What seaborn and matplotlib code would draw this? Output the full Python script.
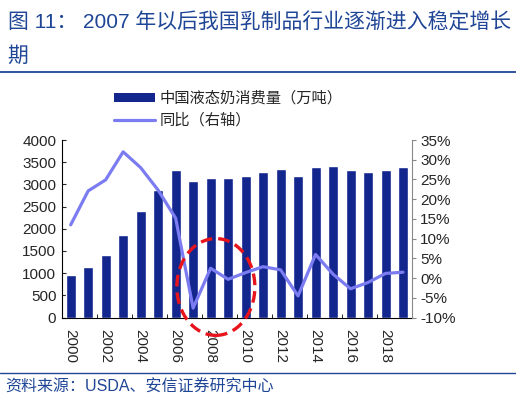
import numpy as np
import pandas as pd
import seaborn as sns
import matplotlib.pyplot as plt
from matplotlib.patches import Ellipse, Patch
from matplotlib.lines import Line2D
from matplotlib.ticker import FuncFormatter

# 中国液态奶消费量（万吨）与同比
years = list(range(2000, 2020))
consumption = [950, 1150, 1420, 1860, 2400, 2870, 3320, 3075, 3140, 3140,
               3190, 3280, 3345, 3190, 3390, 3410, 3315, 3280, 3315, 3390]
yoy = [0.135, 0.221, 0.249, 0.320, 0.280, 0.223, 0.152, -0.076, 0.025, -0.003,
       0.014, 0.029, 0.021, -0.045, 0.060, 0.010, -0.027, -0.011, 0.012, 0.015]

bar_label = '中国液态奶消费量（万吨）'
line_label = '同比（右轴）'
title1 = '图 11： 2007 年以后我国乳制品行业逐渐进入稳定增长'
title2 = '期'
source = '资料来源：USDA、安信证券研究中心'

df = pd.DataFrame({'year': years, 'consumption': consumption, 'yoy': yoy})

sns.set_style('white')
plt.rcParams['font.family'] = ['Liberation Sans', 'Noto Sans CJK SC']

bar_color = '#12268e'
line_color = '#7b7bf2'
title_color = '#1f4596'

fig = plt.figure(figsize=(5.16, 4.0), dpi=100)
ax = fig.add_axes([0.120, 0.206, 0.678, 0.444])

sns.barplot(data=df, x='year', y='consumption', native_scale=True,
            color=bar_color, saturation=1, width=0.57, ax=ax)
ax.set_xlim(1999.5, 2019.5)
ax.set_ylim(0, 4000)
ax.set_yticks(range(0, 4001, 500))
ax.set_xticks(years[::2])
ax.set_xticklabels([str(y) for y in years[::2]], rotation=-90)
ax.set_xticks(np.arange(2001.5, 2019, 2), minor=True)
ax.tick_params(axis='x', which='major', length=0, pad=8, labelsize=11)
ax.tick_params(axis='x', which='minor', direction='in', length=3, color='black', bottom=True)
ax.tick_params(axis='y', direction='in', length=3, left=True, labelsize=11, pad=4)
ax.set_xlabel('')
ax.set_ylabel('')
for side in ['top', 'right']:
    ax.spines[side].set_visible(False)
ax.spines['left'].set_color('black')
ax.spines['bottom'].set_color('black')

ax2 = ax.twinx()
sns.lineplot(data=df, x='year', y='yoy', color=line_color, linewidth=2.3, ax=ax2)
ax2.set_ylim(-0.10, 0.35)
ax2.set_yticks(np.arange(-0.10, 0.351, 0.05))
ax2.yaxis.set_major_formatter(FuncFormatter(lambda v, p: f'{v:.0%}'))
ax2.tick_params(axis='y', direction='out', length=3, right=True, labelsize=11, pad=3, color='#888888')
ax2.set_ylabel('')
for side in ['top', 'left', 'bottom']:
    ax2.spines[side].set_visible(False)
ax2.spines['right'].set_color('#888888')

# 红色虚线椭圆标注（画在折线之上）
ell = Ellipse((2008.3, 690), width=4.46, height=2180, fill=False, edgecolor='#e8141c',
              linewidth=2.4, linestyle=(0, (3.5, 1.8)), clip_on=False, zorder=10,
              transform=ax.transData)
ax2.add_patch(ell)

handles = [Patch(facecolor=bar_color, edgecolor='none'),
           Line2D([0], [0], color=line_color, linewidth=2.3)]
fig.legend(handles, [bar_label, line_label], loc='upper left',
           bbox_to_anchor=(0.221, 0.772), frameon=False, fontsize=11,
           handlelength=2.7, handleheight=0.5, handletextpad=0.3,
           labelspacing=0.5, borderpad=0, borderaxespad=0)

fig.text(0.015, 0.943, title1, color=title_color, fontsize=15, va='center', ha='left')
fig.text(0.015, 0.860, title2, color=title_color, fontsize=15, va='center', ha='left')
fig.add_artist(Line2D([0, 1], [1 - 72 / 400, 1 - 72 / 400], color=title_color, linewidth=1.3))
fig.add_artist(Line2D([0, 1], [1 - 373 / 400, 1 - 373 / 400], color=title_color, linewidth=1.0))
fig.text(0.010, 1 - 387 / 400, source, color=title_color, fontsize=11.5, va='center', ha='left')

fig.savefig('out.png', dpi=100)
